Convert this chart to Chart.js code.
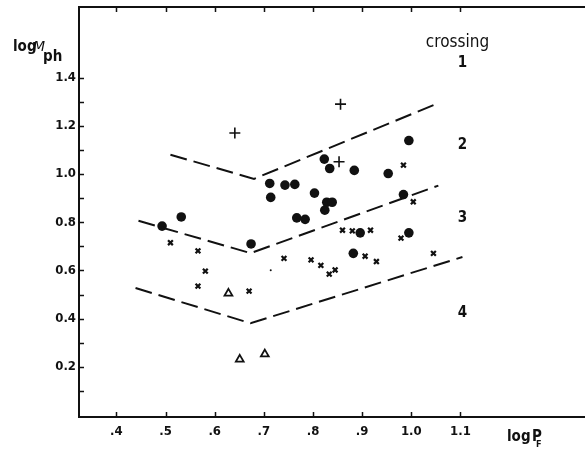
<!DOCTYPE html>
<html>
<head>
<meta charset="utf-8">
<script src="https://cdn.jsdelivr.net/npm/chart.js@4.4.1/dist/chart.umd.min.js"></script>
<style>
  html, body { margin: 0; padding: 0; background: #fff; overflow: hidden; }
  #wrap { width: 585px; height: 450px; position: relative; overflow: hidden; }
  #c { display: block; }
</style>
</head>
<body>
<div id="wrap"><canvas id="c" width="605" height="450"></canvas></div>
<script>
// Axis ticks and labels
const xTickValues = [0.4, 0.5, 0.6, 0.7, 0.8, 0.9, 1.0, 1.1];
const xTickLabels = ['.4', '.5', '.6', '.7', '.8', '.9', '1.0', '1.1'];
const yTickValues = [0.2, 0.4, 0.6, 0.8, 1.0, 1.2, 1.4];
const yTickLabels = ['0.2', '0.4', '0.6', '0.8', '1.0', '1.2', '1.4'];
const yMinorTicks = [0.1, 0.3, 0.5, 0.7, 0.9, 1.1, 1.3];

// Measurements (log P_F, log M_ph), grouped by marker type
const dotPoints = [
  [0.493, 0.784], [0.532, 0.822], [0.674, 0.710], [0.712, 0.961], [0.743, 0.954],
  [0.763, 0.957], [0.714, 0.903], [0.823, 1.062], [0.834, 1.023], [0.884, 1.015],
  [0.953, 1.002], [0.995, 1.139], [0.803, 0.921], [0.828, 0.883], [0.839, 0.883],
  [0.824, 0.850], [0.767, 0.818], [0.784, 0.812], [0.984, 0.915], [0.896, 0.756],
  [0.995, 0.756], [0.882, 0.671]
];
const plusPoints = [
  [0.641, 1.170], [0.856, 1.290], [0.853, 1.051]
];
const crossPoints = [
  [0.510, 0.715], [0.566, 0.681], [0.581, 0.597], [0.566, 0.535], [0.670, 0.514],
  [0.741, 0.650], [0.984, 1.037], [1.004, 0.885], [0.860, 0.767], [0.880, 0.764],
  [0.917, 0.767], [0.979, 0.734], [0.796, 0.644], [0.816, 0.621], [0.833, 0.585],
  [0.845, 0.602], [0.906, 0.659], [0.929, 0.637], [1.045, 0.671]
];
const trianglePoints = [
  [0.628, 0.505], [0.651, 0.231], [0.702, 0.253]
];
const speckPoints = [
  [0.714, 0.601]
];

// Boundaries between crossing regions
const boundary12 = [[0.51, 1.08], [0.68, 0.98], [1.05, 1.29]];
const boundary23 = [[0.445, 0.806], [0.673, 0.672], [1.055, 0.952]];
const boundary34 = [[0.439, 0.527], [0.673, 0.381], [1.104, 0.656]];

// Region labels
const regionLabels = ['crossing', '1', '2', '3', '4'];
const regionLabelY = [1.547, 1.46, 1.12, 0.817, 0.423];
const regionLabelX = 1.1;

const toXY = arr => arr.map(p => ({ x: p[0], y: p[1] }));
const INK = '#111';
const FONT = "'DejaVu Sans Condensed', 'DejaVu Sans', 'Liberation Sans', sans-serif";

function dashed(data) {
  return {
    type: 'line', data: toXY(data), showLine: true, borderColor: INK,
    borderWidth: 2, borderDash: [17, 7], pointRadius: 0, fill: false, tension: 0
  };
}

// Open frame (left, bottom, top), inward ticks, axis titles and region labels
const frameAndText = {
  id: 'frameAndText',
  afterDraw(chart) {
    const { ctx, scales: { x, y } } = chart;
    const left = x.left, top = y.top, bottom = y.bottom, right = chart.width + 5;
    ctx.save();
    ctx.strokeStyle = INK;
    ctx.lineWidth = 2;
    ctx.beginPath();
    ctx.moveTo(right, top); ctx.lineTo(left, top);
    ctx.lineTo(left, bottom); ctx.lineTo(right, bottom);
    ctx.stroke();
    // ticks on top and bottom edges
    ctx.lineWidth = 1.5;
    xTickValues.forEach(v => {
      const px = Math.round(x.getPixelForValue(v)) + 0.5;
      ctx.beginPath();
      ctx.moveTo(px, bottom); ctx.lineTo(px, bottom - 5);
      ctx.moveTo(px, top); ctx.lineTo(px, top + 5);
      ctx.stroke();
    });
    // ticks on the left edge
    yTickValues.concat(yMinorTicks).forEach(v => {
      const py = Math.round(y.getPixelForValue(v)) + 0.5;
      ctx.beginPath();
      ctx.moveTo(left, py); ctx.lineTo(left + 5, py);
      ctx.stroke();
    });

    ctx.fillStyle = INK;
    ctx.textBaseline = 'alphabetic';
    // y axis title: log M_ph
    ctx.textAlign = 'left';
    ctx.font = `bold 15px ${FONT}`;
    ctx.fillText('log', 13, 51);
    ctx.font = `italic 14px 'DejaVu Sans', sans-serif`;
    ctx.fillText('M', 33, 51);
    ctx.font = `bold 15px ${FONT}`;
    ctx.fillText('ph', 43, 61);
    // x axis title: log P_F
    ctx.font = `bold 15px ${FONT}`;
    ctx.fillText('log', 507, 441);
    ctx.fillText('P', 532, 441);
    ctx.font = `bold 9px ${FONT}`;
    ctx.fillText('F', 536, 447);

    // region labels
    ctx.textAlign = 'center';
    ctx.textBaseline = 'middle';
    const cx = x.getPixelForValue(regionLabelX);
    regionLabels.forEach((t, i) => {
      ctx.font = i === 0 ? `17px ${FONT}` : `bold 15px ${FONT}`;
      ctx.fillText(t, i === 0 ? cx - 3 : cx + 2, y.getPixelForValue(regionLabelY[i]));
    });
    ctx.restore();
  }
};

new Chart(document.getElementById('c'), {
  type: 'scatter',
  data: {
    datasets: [
      dashed(boundary12),
      dashed(boundary23),
      dashed(boundary34),
      { data: toXY(dotPoints), pointStyle: 'circle', pointRadius: 4.8,
        backgroundColor: INK, borderColor: INK, borderWidth: 0 },
      { data: toXY(plusPoints), pointStyle: 'cross', pointRadius: 5.5,
        borderColor: INK, borderWidth: 1.6 },
      { data: toXY(crossPoints), pointStyle: 'crossRot', pointRadius: 3.4,
        borderColor: INK, borderWidth: 2.2 },
      { data: toXY(trianglePoints), pointStyle: 'triangle', pointRadius: 4.5,
        backgroundColor: '#fff', borderColor: INK, borderWidth: 1.8 },
      { data: toXY(speckPoints), pointStyle: 'circle', pointRadius: 1,
        backgroundColor: INK, borderColor: INK, borderWidth: 0 }
    ]
  },
  options: {
    responsive: false,
    animation: false,
    events: [],
    layout: { autoPadding: false, padding: { top: 7, left: 0, right: 0, bottom: 0 } },
    plugins: { legend: { display: false }, tooltip: { enabled: false } },
    scales: {
      x: {
        type: 'linear', min: 0.324, max: 1.394,
        afterFit: s => { s.height = 33; s.paddingLeft = 0; s.paddingRight = 0; },
        afterBuildTicks: s => { s.ticks = xTickValues.map(value => ({ value })); },
        grid: { display: false, drawTicks: false },
        border: { display: false },
        ticks: {
          padding: 7, color: INK, maxRotation: 0, autoSkip: false,
          font: { family: FONT, size: 13, weight: 'bold' },
          callback: (v, i) => xTickLabels[i]
        }
      },
      y: {
        type: 'linear', min: -0.008, max: 1.693,
        afterFit: s => { s.width = 79; s.paddingTop = 0; s.paddingBottom = 0; },
        afterBuildTicks: s => { s.ticks = yTickValues.map(value => ({ value })); },
        grid: { display: false, drawTicks: false },
        border: { display: false },
        ticks: {
          padding: 3, color: INK, autoSkip: false,
          font: { family: FONT, size: 13, weight: 'bold' },
          callback: (v, i) => yTickLabels[i]
        }
      }
    }
  },
  plugins: [frameAndText]
});
</script>
</body>
</html>
